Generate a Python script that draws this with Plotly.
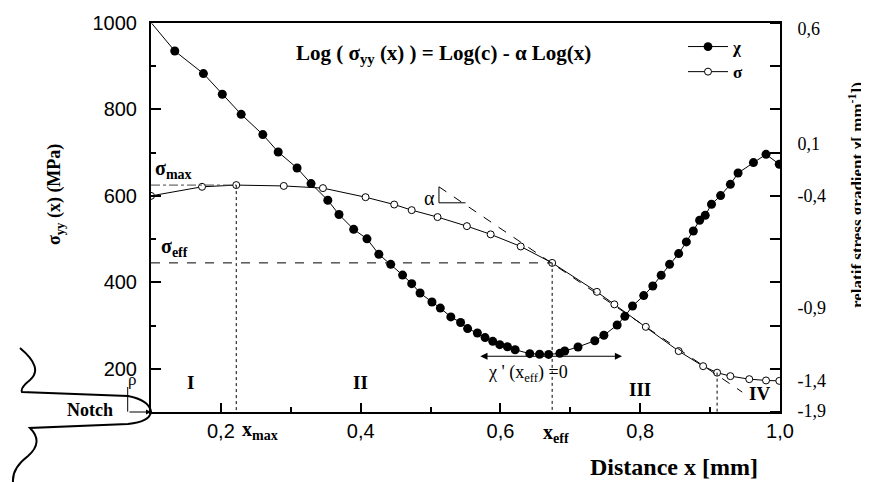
import plotly.graph_objects as go

# stress profile sigma_yy(x) [MPa] (open circles)
sigma_x = [0.100, 0.173, 0.222, 0.290, 0.346, 0.407, 0.448, 0.473, 0.510, 0.552, 0.586,
           0.629, 0.674, 0.738, 0.763, 0.808, 0.855, 0.890, 0.910, 0.929, 0.956, 0.980, 0.999]
sigma_y = [600, 621, 625, 623, 618, 597, 580, 567, 551, 530, 511,
           483, 445, 378, 349, 297, 241, 206, 191, 183, 176, 173, 172]

# relative stress gradient chi [1/mm] (filled circles)
chi_x = [0.101, 0.134, 0.175, 0.202, 0.229, 0.260, 0.282, 0.309, 0.329, 0.353, 0.369,
         0.390, 0.409, 0.426, 0.443, 0.460, 0.473, 0.485, 0.502, 0.514, 0.529, 0.543,
         0.553, 0.567, 0.578, 0.589, 0.599, 0.610, 0.621, 0.642, 0.656, 0.669, 0.685,
         0.692, 0.711, 0.735, 0.748, 0.767, 0.778, 0.789, 0.805, 0.818, 0.830, 0.842,
         0.855, 0.866, 0.876, 0.885, 0.893, 0.902, 0.915, 0.929, 0.940, 0.962, 0.980, 0.999]
chi_y = [0.598, 0.420, 0.275, 0.142, 0.013, -0.117, -0.229, -0.332, -0.432, -0.539, -0.631,
         -0.726, -0.787, -0.886, -0.951, -1.020, -1.075, -1.135, -1.193, -1.232, -1.289, -1.325,
         -1.364, -1.392, -1.422, -1.446, -1.467, -1.481, -1.500, -1.525, -1.529, -1.530, -1.523,
         -1.508, -1.482, -1.442, -1.407, -1.341, -1.285, -1.219, -1.152, -1.090, -1.021, -0.951,
         -0.882, -0.807, -0.737, -0.668, -0.636, -0.565, -0.509, -0.437, -0.364, -0.297, -0.244, -0.308]

x_ticks = [0.2, 0.4, 0.6, 0.8, 1.0]
x_tick_text = ["0,2", "0,4", "0,6", "0,8", "1,0"]
x_minor = [0.3, 0.5, 0.7, 0.9]
y_ticks = [200, 400, 600, 800, 1000]
y_minor = [300, 500, 700, 900]
# right axis labels sit where the original figure prints them
chi_tick_pos = [0.566, -0.173, -0.507, -1.227, -1.696, -1.889]
chi_tick_text = ["0,6", "0,1", "-0,4", "-0,9", "-1,4", "-1,9"]
chi_tick_marks = [0.6 - k * 2.5 / 9 for k in range(10)]

# tangent at x_eff (dashed) and slope triangle
tangent_x = [0.512, 0.946]
tangent_y = [621, 146]

SERIF = "Liberation Serif"
SANS = "Liberation Sans"

# the page body has an 8px margin, so the figure starts 8px into the window
PAGE = 8
W, H = 869 - PAGE, 482 - PAGE
L, R, T, B = 151 - PAGE, 89, 23 - PAGE, 70
PW, PH = W - L - R, H - T - B
X0, Y1 = L + PAGE, H - B + PAGE   # plot area left / bottom in window pixels


def px(xp, yp):
    # window pixel -> paper coords
    return (xp - X0) / PW, (Y1 - yp) / PH


def path(cmds):
    out = []
    for c in cmds:
        if isinstance(c, str):
            out.append(c)
        else:
            a, b = px(*c)
            out.append(f"{a:.4f},{b:.4f}")
    return " ".join(out)


fig = go.Figure()

fig.add_trace(go.Scatter(
    x=chi_x, y=chi_y, yaxis="y2", mode="lines+markers", name="<b>χ</b>",
    line=dict(color="black", width=1),
    marker=dict(color="black", opacity=1, size=[0] + [9] * (len(chi_x) - 1),
                line=dict(color="black", width=0)),
))
fig.add_trace(go.Scatter(
    x=sigma_x, y=sigma_y, mode="lines+markers", name="<b>σ</b>",
    line=dict(color="black", width=1),
    marker=dict(color="white", size=7, line=dict(color="black", width=1)),
))

i_max = sigma_y.index(max(sigma_y))
i_eff = 12
i_iv = 18
x_max, s_max = sigma_x[i_max], sigma_y[i_max]
x_eff, s_eff = sigma_x[i_eff], sigma_y[i_eff]

shapes = [
    dict(type="line", x0=0.1, x1=x_max, y0=s_max, y1=s_max,
         line=dict(color="#444", width=1, dash="dashdot")),
    dict(type="line", x0=x_max, x1=x_max, y0=s_max, y1=100,
         line=dict(color="black", width=1, dash="dot")),
    dict(type="line", x0=0.1, x1=x_eff, y0=s_eff, y1=s_eff,
         line=dict(color="black", width=1, dash="dash")),
    dict(type="line", x0=x_eff, x1=x_eff, y0=s_eff, y1=100,
         line=dict(color="black", width=1, dash="dot")),
    dict(type="line", x0=sigma_x[i_iv], x1=sigma_x[i_iv], y0=sigma_y[i_iv], y1=100,
         line=dict(color="black", width=1, dash="dot")),
    dict(type="line", x0=tangent_x[0], x1=tangent_x[1], y0=tangent_y[0], y1=tangent_y[1],
         line=dict(color="black", width=1, dash="dash")),
    dict(type="line", x0=tangent_x[0], x1=tangent_x[0], y0=tangent_y[0], y1=584,
         line=dict(color="black", width=1)),
    dict(type="line", x0=tangent_x[0], x1=0.55, y0=584, y1=584,
         line=dict(color="black", width=1)),
]

# notch sketch left of the axes
notch = path(["M", (20, 348), "Q", (44, 368), (30, 380), "Q", (20, 388), (22, 392),
              "L", (128, 396), "Q", (149, 400), (151, 411.7), "Q", (150, 422), (128, 424),
              "L", (30, 428), "Q", (44, 442), (28, 456), "Q", (12, 468), (13, 482)])
shapes.append(dict(type="path", xref="paper", yref="paper", path=notch,
                   line=dict(color="black", width=2)))
bx0, by0 = px(127.7, 411.7)
bx1, by1 = px(127.7, 387)
shapes.append(dict(type="line", xref="paper", yref="paper", x0=bx0, x1=bx1, y0=by0, y1=by1,
                   line=dict(color="black", width=1)))

ann = []


def note(text, x, y, size=19, bold=True, font=SERIF, ref="data", **kw):
    t = f"<b>{text}</b>" if bold else text
    d = dict(text=t, x=x, y=y, showarrow=False, xanchor="center", yanchor="middle",
             font=dict(family=font, size=size, color="black"))
    if ref == "paper":
        d.update(xref="paper", yref="paper")
    d.update(kw)
    ann.append(d)


note("Log ( σ<sub>yy</sub> (x) ) = Log(c) - α Log(x)", *px(443, 54), size=21, ref="paper")
note("σ<sub>max</sub>", 0.103, 660, size=20, xanchor="left")
note("σ<sub>eff</sub>", 0.111, 480, size=20, xanchor="left")
note("α", 0.499, 595, size=20, bold=False)
note("χ ' (x<sub>eff</sub>) =0", 0.639, 190, size=18, bold=False)
note("I", 0.156, 169)
note("II", 0.400, 169)
note("III", 0.800, 152)
note("IV", 0.970, 143)
note("x<sub>max</sub>", 0.227, px(0, 430)[1], size=20, xanchor="left", yref="paper")
note("x<sub>eff</sub>", 0.680, px(0, 433)[1], size=20, yref="paper")
note("Distance x [mm]", *px(674, 467), size=24, ref="paper")
note("σ<sub>yy</sub> (x) (MPa)", *px(55, 195), size=18, ref="paper", textangle=-90)
note("relatif stress gradient χ[ mm<sup>-1</sup>])", *px(856, 195), size=17, ref="paper",
     textangle=-90)
note("Notch", *px(90, 410), size=18, ref="paper")
note("ρ", *px(132, 379), size=17, bold=False, ref="paper")

# double arrow at the chi minimum
ann.append(dict(x=0.774, y=229, ax=0.569, ay=229, axref="x", ayref="y", text="",
                showarrow=True, arrowhead=2, arrowside="end+start", arrowwidth=1.2,
                arrowsize=1.2, arrowcolor="black"))
# notch radius arrow
ann.append(dict(x=0, y=0, xref="paper", yref="paper", ax=-23, ay=0, text="",
                showarrow=True, arrowhead=2, arrowwidth=1, arrowsize=1, arrowcolor="black"))

lx, ly = px(683, 29)

fig.update_layout(
    width=W, height=H,
    margin=dict(l=L, r=R, t=T, b=B, autoexpand=False),
    plot_bgcolor="white", paper_bgcolor="white",
    showlegend=True,
    legend=dict(x=lx, y=ly, xanchor="left", yanchor="top", bgcolor="rgba(0,0,0,0)",
                font=dict(family=SERIF, size=17, color="black"), itemwidth=40,
                tracegroupgap=0),
    shapes=shapes,
    annotations=ann,
    xaxis=dict(
        range=[0.1, 1.0], showgrid=False, zeroline=False, automargin=False,
        showline=True, linecolor="black", linewidth=2, mirror=True,
        ticks="inside", ticklen=9, tickwidth=1.5, tickcolor="black",
        tickvals=x_ticks, ticktext=x_tick_text,
        minor=dict(tickvals=x_minor, ticks="inside", ticklen=5, tickwidth=1.5, tickcolor="black"),
        tickfont=dict(family=SANS, size=20, color="black"),
    ),
    yaxis=dict(
        range=[100, 1000], showgrid=False, zeroline=False, automargin=False,
        showline=True, linecolor="black", linewidth=2,
        ticks="inside", ticklen=10, tickwidth=1.5, tickcolor="black",
        tickvals=y_ticks,
        minor=dict(tickvals=y_minor, ticks="inside", ticklen=5, tickwidth=1.5, tickcolor="black"),
        tickfont=dict(family=SANS, size=20, color="black"),
        ticklabelstandoff=8,
    ),
    yaxis2=dict(
        overlaying="y", side="right", range=[-1.9, 0.6],
        showgrid=False, zeroline=False, automargin=False,
        showline=True, linecolor="black", linewidth=2,
        ticks="", tickvals=chi_tick_pos, ticktext=chi_tick_text,
        minor=dict(tickvals=chi_tick_marks, ticks="inside", ticklen=10, tickwidth=1.5,
                   tickcolor="black"),
        tickfont=dict(family=SERIF, size=18, color="black"),
        ticklabelstandoff=12,
    ),
)

fig.write_html("out.html")
